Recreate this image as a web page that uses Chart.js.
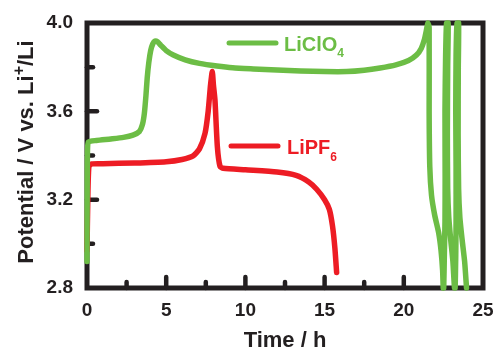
<!DOCTYPE html>
<html>
<head>
<meta charset="utf-8">
<script src="https://cdn.jsdelivr.net/npm/chart.js@4.4.1/dist/chart.umd.min.js"></script>
<style>
  body { margin: 0; background: #fff; }
  canvas { display: block; }
</style>
</head>
<body>
<canvas id="potentialChart" width="496" height="352"></canvas>
<script>
// LiClO4 cell: first long charge, then three short cycles near the end
const licloTime = [0, 0.01, 0.03, 0.1, 0.6, 1.5, 2.3, 2.9, 3.3, 3.5, 3.62, 3.72, 3.8, 3.9, 4.02, 4.15, 4.3, 4.45, 4.65, 5.0, 5.45, 6.2, 7.1, 8.2, 9.2, 10.5, 12, 13.5, 15, 16.4, 17.5, 18.5, 19.5, 20.3, 20.8, 21.1, 21.3, 21.42, 21.52,
  21.6, 21.6, 21.64, 21.75, 21.95, 22.2, 22.35, 22.45, 22.49,
  22.52, 22.56, 22.6, 22.61, 22.6, 22.64, 22.7,
  22.8, 22.77, 22.75, 22.77, 22.84, 22.96, 23.1, 23.2,
  23.24, 23.28, 23.3, 23.3, 23.28, 23.3, 23.36,
  23.46, 23.44, 23.43, 23.46, 23.54, 23.68, 23.84, 23.96];
const licloVolt = [2.92, 3.2, 3.42, 3.462, 3.468, 3.475, 3.482, 3.492, 3.508, 3.54, 3.59, 3.67, 3.75, 3.82, 3.875, 3.905, 3.918, 3.915, 3.9, 3.875, 3.855, 3.833, 3.817, 3.805, 3.797, 3.792, 3.787, 3.783, 3.78, 3.78, 3.786, 3.796, 3.81, 3.83, 3.855, 3.885, 3.925, 3.965, 4.0,
  3.98, 3.6, 3.35, 3.22, 3.13, 3.05, 2.97, 2.88, 2.8,
  2.8, 2.95, 3.1, 3.3, 3.6, 3.85, 4.0,
  4.0, 3.8, 3.5, 3.25, 3.12, 3.02, 2.92, 2.8,
  2.8, 2.95, 3.1, 3.35, 3.6, 3.85, 4.0,
  4.0, 3.8, 3.5, 3.25, 3.12, 3.02, 2.92, 2.8];

// LiPF6 cell
const lipfTime = [0, 0.05, 0.12, 0.3, 1, 3, 5, 6, 6.7, 7.1, 7.45, 7.65, 7.8, 7.91, 7.98, 8.08, 8.23, 8.4, 8.6, 10, 12, 13.2, 14, 14.5, 15, 15.3, 15.5, 15.65, 15.76];
const lipfVolt = [2.97, 3.2, 3.35, 3.362, 3.363, 3.366, 3.372, 3.382, 3.398, 3.43, 3.5, 3.6, 3.72, 3.78, 3.72, 3.65, 3.44, 3.35, 3.342, 3.335, 3.325, 3.31, 3.28, 3.247, 3.2, 3.156, 3.08, 2.98, 2.87];

const xTicks = [0, 5, 10, 15, 20, 25];
const yTicks = [2.8, 3.2, 3.6, 4.0];
const xMinor = [2.5, 7.5, 12.5, 17.5, 22.5];
const yMinor = [3.0, 3.4, 3.8];

const GREEN = '#6cbd45';
const RED = '#ed1c24';
const INK = '#231f20';
const FONT = 'Arial, "Liberation Sans", sans-serif';

function toPoints(xs, ys) {
  return xs.map((x, i) => ({ x: x, y: ys[i] }));
}

// box around the plot with inward tick marks
const frame = {
  id: 'frame',
  beforeDatasetsDraw(chart) {
    const { ctx, chartArea: a, scales: { x, y } } = chart;
    ctx.save();
    ctx.strokeStyle = INK;
    ctx.lineWidth = 5;
    ctx.strokeRect(a.left, a.top, a.right - a.left, a.bottom - a.top);
    ctx.lineCap = 'round';
    ctx.lineWidth = 4.5;
    const tick = (x1, y1, x2, y2) => {
      ctx.beginPath();
      ctx.moveTo(x1, y1);
      ctx.lineTo(x2, y2);
      ctx.stroke();
    };
    xTicks.slice(1, -1).forEach(v => {
      const px = x.getPixelForValue(v);
      tick(px, a.bottom, px, a.bottom - 11);
    });
    xMinor.forEach(v => {
      const px = x.getPixelForValue(v);
      tick(px, a.bottom, px, a.bottom - 6);
    });
    yTicks.slice(1, -1).forEach(v => {
      const py = y.getPixelForValue(v);
      tick(a.left, py, a.left + 10, py);
    });
    yMinor.forEach(v => {
      const py = y.getPixelForValue(v);
      tick(a.left, py, a.left + 6, py);
    });
    ctx.restore();
  }
};

// draws a run of text pieces, each with its own size and baseline shift
function drawPieces(ctx, pieces, x, y, align) {
  let total = 0;
  pieces.forEach(p => {
    ctx.font = 'bold ' + p.size + 'px ' + FONT;
    p.w = ctx.measureText(p.text).width;
    total += p.w;
  });
  let cx = align === 'center' ? x - total / 2 : x;
  pieces.forEach(p => {
    ctx.font = 'bold ' + p.size + 'px ' + FONT;
    ctx.fillText(p.text, cx, y + (p.shift || 0));
    cx += p.w;
  });
}

const labels = {
  id: 'labels',
  afterDraw(chart) {
    const ctx = chart.ctx;
    ctx.save();
    ctx.textBaseline = 'alphabetic';
    ctx.textAlign = 'left';

    // y axis title
    ctx.save();
    ctx.translate(33, 152);
    ctx.rotate(-Math.PI / 2);
    ctx.fillStyle = INK;
    drawPieces(ctx, [
      { text: 'Potential / V vs. Li', size: 22 },
      { text: '+', size: 16, shift: -9 },
      { text: '/Li', size: 22 }
    ], 0, 0, 'center');
    ctx.restore();

    // legend
    ctx.lineCap = 'round';
    ctx.lineWidth = 5;
    ctx.strokeStyle = GREEN;
    ctx.beginPath();
    ctx.moveTo(229, 43);
    ctx.lineTo(276, 43);
    ctx.stroke();
    ctx.fillStyle = GREEN;
    drawPieces(ctx, [
      { text: 'LiClO', size: 20 },
      { text: '4', size: 12, shift: 6 }
    ], 284, 51, 'left');

    ctx.strokeStyle = RED;
    ctx.beginPath();
    ctx.moveTo(231, 146);
    ctx.lineTo(278, 146);
    ctx.stroke();
    ctx.fillStyle = RED;
    drawPieces(ctx, [
      { text: 'LiPF', size: 20 },
      { text: '6', size: 12, shift: 7 }
    ], 287, 153.5, 'left');

    ctx.restore();
  }
};

const lineStyle = {
  showLine: true,
  pointRadius: 0,
  borderWidth: 5.5,
  borderCapStyle: 'round',
  borderJoinStyle: 'round',
  tension: 0.2,
  clip: 3
};

const ctx = document.getElementById('potentialChart').getContext('2d');
const chart = new Chart(ctx, {
  type: 'scatter',
  data: {
    datasets: [
      Object.assign({ label: 'LiClO4', data: toPoints(licloTime, licloVolt), borderColor: GREEN, backgroundColor: GREEN }, lineStyle),
      Object.assign({ label: 'LiPF6', data: toPoints(lipfTime, lipfVolt), borderColor: RED, backgroundColor: RED }, lineStyle)
    ]
  },
  options: {
    responsive: false,
    animation: false,
    devicePixelRatio: 1,
    layout: { padding: { top: 23, right: 13, left: 0, bottom: 0 } },
    plugins: {
      legend: { display: false },
      tooltip: { enabled: false }
    },
    scales: {
      x: {
        type: 'linear',
        min: 0,
        max: 25,
        afterBuildTicks: s => { s.ticks = xTicks.map(v => ({ value: v })); },
        afterFit: s => {
          s.height = 64;
          s.paddingLeft = 0;
          s.paddingRight = 0;
        },
        grid: { display: false },
        border: { display: false },
        ticks: {
          color: INK,
          padding: 3,
          maxRotation: 0,
          autoSkip: false,
          font: { family: FONT, size: 19, weight: 'bold' }
        },
        title: {
          display: true,
          text: 'Time / h',
          color: INK,
          padding: 0,
          font: { family: FONT, size: 22, weight: 'bold', lineHeight: 1 }
        }
      },
      y: {
        min: 2.8,
        max: 4.0,
        afterBuildTicks: s => { s.ticks = yTicks.map(v => ({ value: v })); },
        afterFit: s => { s.width = 87; },
        grid: { display: false },
        border: { display: false },
        ticks: {
          color: INK,
          padding: 6,
          autoSkip: false,
          font: { family: FONT, size: 19, weight: 'bold' },
          callback: v => v.toFixed(1)
        }
      }
    }
  },
  plugins: [frame, labels]
});
</script>
</body>
</html>
